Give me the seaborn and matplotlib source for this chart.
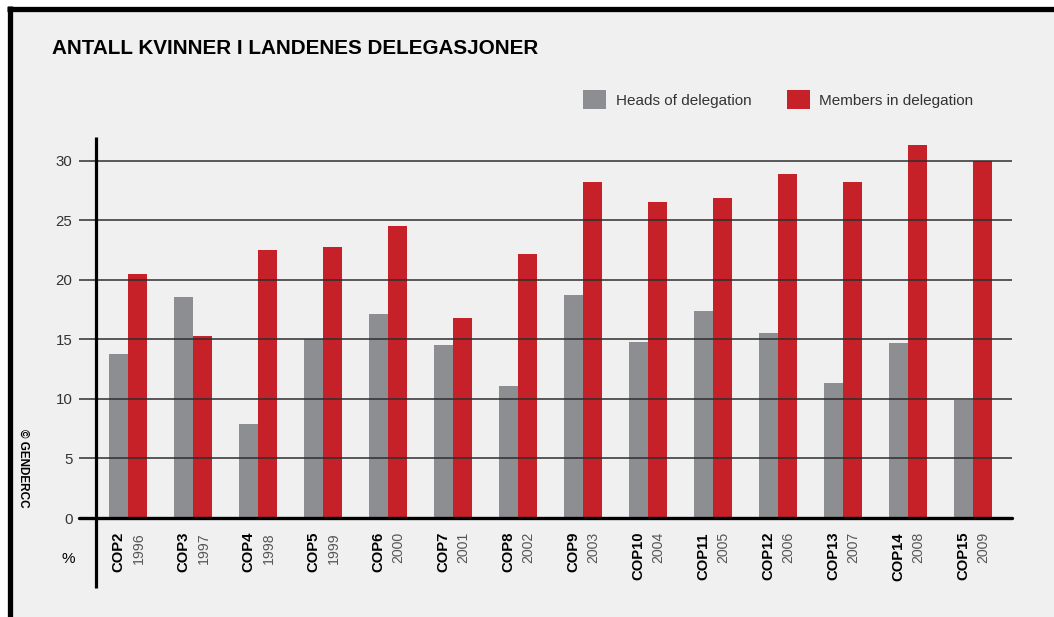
import numpy as np
import pandas as pd
import matplotlib
matplotlib.use('Agg')
import matplotlib.pyplot as plt
from matplotlib.lines import Line2D
from matplotlib.patches import Rectangle, Patch
import matplotlib.transforms as mtrans
import seaborn as sns

sns.set_theme(style='white')
plt.rcParams['font.family'] = ['Liberation Sans', 'DejaVu Sans']

# data
cops = ['COP2', 'COP3', 'COP4', 'COP5', 'COP6', 'COP7', 'COP8',
        'COP9', 'COP10', 'COP11', 'COP12', 'COP13', 'COP14', 'COP15']
years = ['1996', '1997', '1998', '1999', '2000', '2001', '2002',
         '2003', '2004', '2005', '2006', '2007', '2008', '2009']
heads = [13.8, 18.6, 7.9, 15.0, 17.1, 14.5, 11.1, 18.7, 14.8, 17.4, 15.5, 11.3, 14.7, 9.9]
members = [20.5, 15.3, 22.5, 22.8, 24.5, 16.8, 22.2, 28.2, 26.5, 26.9, 28.9, 28.2, 31.3, 30.0]
series = ['Heads of delegation', 'Members in delegation']
yticks = [0, 5, 10, 15, 20, 25, 30]

grey = '#8d8e92'
red = '#c62028'
bg = '#f0f0f0'

df = pd.DataFrame({
    'cop': cops * 2,
    'value': heads + members,
    'series': [series[0]] * len(cops) + [series[1]] * len(cops),
})

W, H = 1054, 617
fig = plt.figure(figsize=(W / 100, H / 100), dpi=100, facecolor='white')

# panel background + black top/left border
fig.patches.append(Rectangle((9.5 / W, 0), 1, 1 - 8.5 / H, transform=fig.transFigure,
                             facecolor=bg, edgecolor='none', zorder=-5))
fig.add_artist(Line2D([7 / W, 1], [1 - 8.5 / H] * 2, color='black', lw=3.8, solid_capstyle='butt'))
fig.add_artist(Line2D([9.5 / W] * 2, [0, 1 - 6 / H], color='black', lw=3.8, solid_capstyle='butt'))

ax = fig.add_axes([96 / W, (H - 518) / H, (1012 - 96) / W, (518 - 137) / H])
ax.set_facecolor('none')

sns.barplot(data=df, x='cop', y='value', hue='series', palette=[grey, red],
            width=0.585, saturation=1, ax=ax, legend=False, linewidth=0)

ax.set_xlim(-0.5, 13.6)
ax.set_ylim(0, 32)
ax.set_yticks(yticks)
ax.set_yticklabels([str(t) for t in yticks], fontsize=10.8, color='#333333')
ax.set_xticks([])
ax.set_xlabel('')
ax.set_ylabel('')
for s in ['top', 'right', 'left', 'bottom']:
    ax.spines[s].set_visible(False)

# grid drawn over the bars, as in the original
ax.set_axisbelow(False)
ax.yaxis.grid(True, color='#2e2e2e', lw=1.1)
ax.tick_params(axis='y', length=12, width=1.1, color='#2e2e2e', pad=5, left=True)

# thick zero line and extended left axis line
ax.axhline(0, xmin=-17 / 916, xmax=1, color='black', lw=2.4, clip_on=False, zorder=4)
ax.plot([0, 0], [-70 / 381, 1], transform=ax.transAxes, color='black', lw=2.3,
        clip_on=False, zorder=5, solid_capstyle='butt')

# category labels: bold COP + grey year, rotated
tr = mtrans.blended_transform_factory(ax.transData, ax.transAxes)
for i, (c, yr) in enumerate(zip(cops, years)):
    ax.text(i - 0.155, -14 / 381, c, transform=tr, rotation=90, ha='center', va='top',
            fontsize=10.7, fontweight='bold', color='black')
    ax.text(i + 0.155, -14 / 381, yr, transform=tr, rotation=90, ha='center', va='top',
            fontsize=10.2, color='#555555')

fig.text(68 / W, 1 - 559 / H, '%', ha='center', va='center', fontsize=11, color='black')

fig.text(52 / W, 1 - 48 / H, 'ANTALL KVINNER I LANDENES DELEGASJONER',
         ha='left', va='center', fontsize=14.9, fontweight='bold', color='black')

fig.text(23 / W, 1 - 468 / H, '© GENDERCC', rotation=-90, ha='center', va='center',
         fontsize=8.5, fontweight='bold', color='black')

handles = [Patch(facecolor=grey, edgecolor='none'), Patch(facecolor=red, edgecolor='none')]
fig.legend(handles, series, loc='center left', bbox_to_anchor=(583 / W, 1 - 99.5 / H),
           ncol=2, frameon=False, fontsize=11, handlelength=1.5, handleheight=1.5,
           handletextpad=0.65, columnspacing=2.3, borderpad=0, borderaxespad=0,
           labelcolor='#333333')

fig.savefig('out.png', dpi=100, facecolor='white')
